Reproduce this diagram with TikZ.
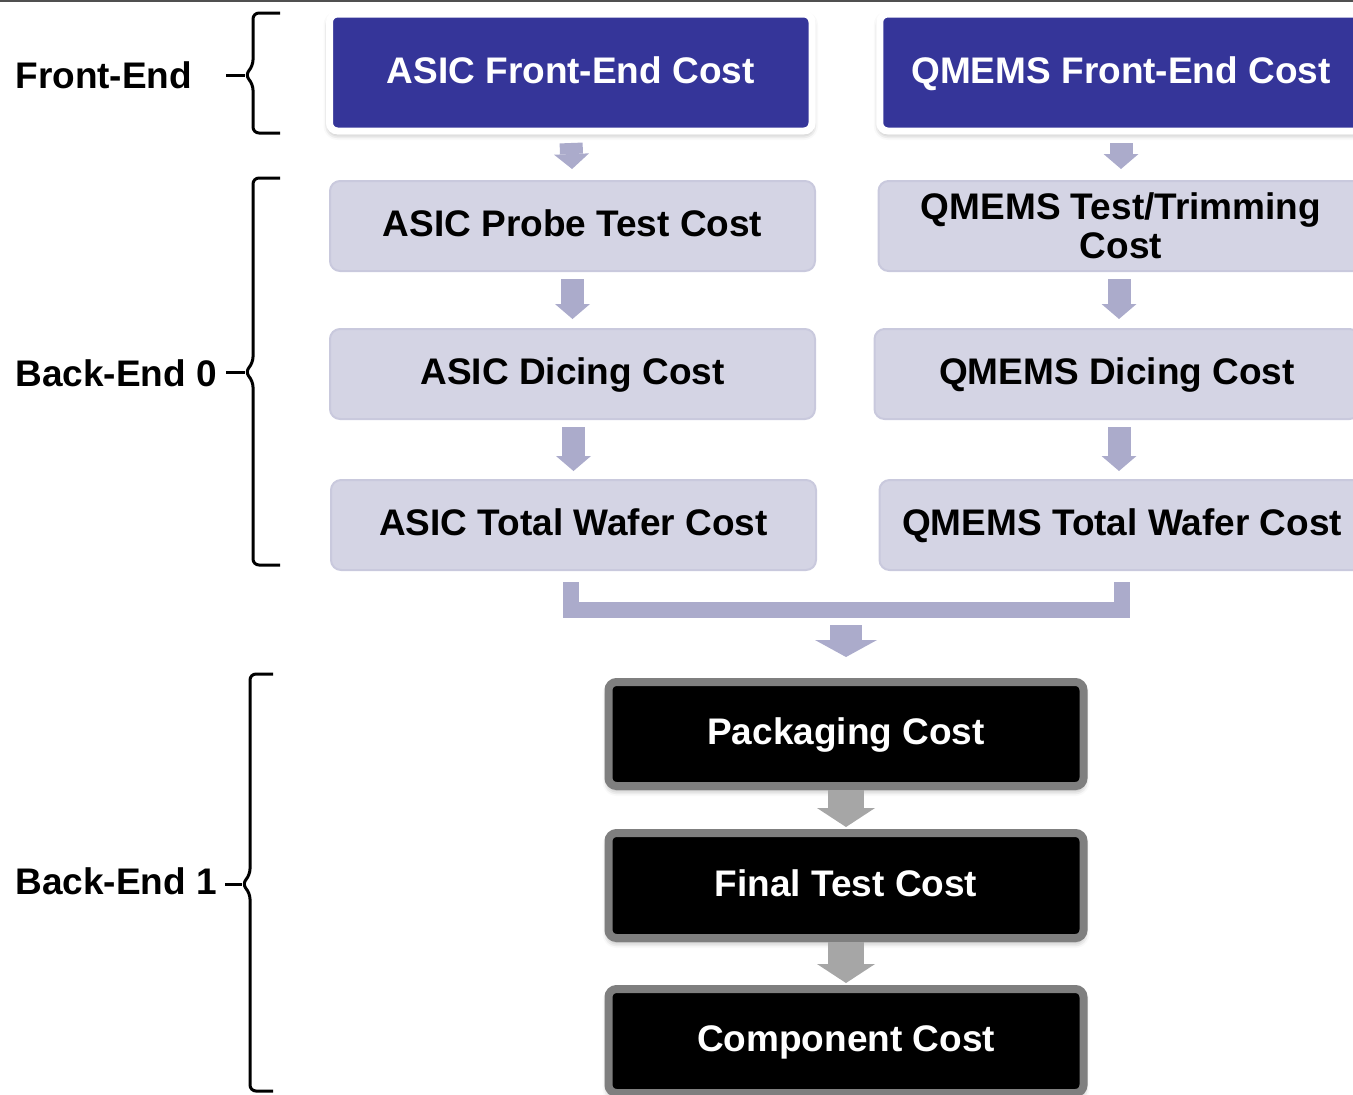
\documentclass[tikz,border=0pt]{standalone}
\usepackage{fontspec}
\setmainfont{Liberation Sans}
\usetikzlibrary{arrows.meta,shadows.blur}

\definecolor{feblue}{RGB}{53,53,153}
\definecolor{wafergray}{RGB}{212,212,228}
\definecolor{waferedge}{RGB}{201,201,221}
\definecolor{lavarrow}{RGB}{171,171,203}
\definecolor{pkgedge}{RGB}{127,127,127}
\definecolor{greyarrow}{RGB}{166,166,166}
\definecolor{topline}{RGB}{80,80,80}

\begin{document}
\begin{tikzpicture}[x=0.5pt, y=-0.5pt,
    cost/.style={font=\bfseries\fontsize{18.5}{19.5}\selectfont, align=center, inner sep=0pt},
    oneline/.style={text height=13.2pt, text depth=2.6pt},
    front/.style={cost, oneline, fill=feblue, draw=white, line width=3.5pt, text=white,
        rounded corners=4pt, minimum width=241.25pt, minimum height=58.5pt,
        blur shadow={shadow xshift=0pt, shadow yshift=-1.5pt, shadow blur radius=3pt, shadow opacity=40}},
    wafer/.style={cost, fill=wafergray, draw=waferedge, line width=1pt,
        rounded corners=5pt, minimum width=242.5pt, minimum height=45pt},
    pkg/.style={cost, oneline, fill=black, draw=pkgedge, line width=4pt, text=white,
        rounded corners=4pt, minimum width=237.5pt, minimum height=52pt,
        blur shadow={shadow xshift=0pt, shadow yshift=-2pt, shadow blur radius=3pt, shadow opacity=40}},
    lavflow/.style={lavarrow, line width=11.5pt, -{Triangle[width=17.5pt,length=7.5pt,line width=0pt]}},
    greyflow/.style={greyarrow, line width=18pt, -{Triangle[width=29pt,length=9.5pt,line width=0pt]}},
    side/.style={font=\bfseries\fontsize{18.5}{19.5}\selectfont, anchor=west, inner sep=0pt},
    brace/.style={line width=1.5pt, rounded corners=3pt}]

\useasboundingbox (0,0) rectangle (1353,1094);
\clip (0,0) rectangle (1353,1094);
\draw[topline, line width=1pt] (0,1) -- (1353,1);

% front-end
\node[front] (fe1) at (570.75,72.5) {ASIC Front-End Cost};
\node[front] (fe2) at (1121,72.5) {QMEMS Front-End Cost};

% back-end 0, wafer level
\node[wafer, oneline] (pt1) at (572.5,226) {ASIC Probe Test Cost};
\node[wafer] (pt2) at (1121,226) {QMEMS Test/Trimming\\Cost};
\node[wafer, oneline] (dc1) at (572.5,374) {ASIC Dicing Cost};
\node[wafer, oneline] (dc2) at (1117,374) {QMEMS Dicing Cost};
\node[wafer, oneline] (tw1) at (573.5,525) {ASIC Total Wafer Cost};
\node[wafer, oneline] (tw2) at (1122,525) {QMEMS Total Wafer Cost};

% back-end 1
\node[pkg] (pack) at (846,734) {Packaging Cost};
\node[pkg, minimum height=52.5pt] (ft) at (846,885.5) {Final Test Cost};
\node[pkg] (comp) at (846,1041) {Component Cost};

\draw[lavflow, shorten <=4.25pt, shorten >=5.5pt] (fe1.south) -- (pt1.north);
\draw[lavflow, shorten <=4.25pt, shorten >=5.5pt] (fe2.south) -- (pt2.north);
\draw[lavflow, shorten <=3.5pt, shorten >=4.5pt] (pt1.south) -- (dc1.north);
\draw[lavflow, shorten <=3.5pt, shorten >=4.5pt] ([xshift=-1pt]pt2.south) -- ([xshift=-1pt]pt2.south |- dc2.north);
\draw[lavflow, shorten <=3.5pt, shorten >=4pt] (dc1.south -| tw1.north) -- (tw1.north);
\draw[lavflow, shorten <=3.5pt, shorten >=4pt] ([xshift=1pt]dc2.south) -- ([xshift=1pt]dc2.south |- tw2.north);

% both wafers go into the package
\coordinate (merge) at (846,609.5);
\draw[lavarrow, line width=8pt] ([xshift=-1.5pt,yshift=-5.5pt]tw1.south) |- (merge) -| ([yshift=-5.5pt]tw2.south);
\draw[lavarrow, line width=16pt, -{Triangle[width=31pt,length=8.5pt,line width=0pt]},
    shorten <=7.75pt, shorten >=10.5pt] (merge) -- (pack.north);

\draw[greyflow, shorten >=1pt] (pack.south) -- (ft.north);
\draw[greyflow, shorten >=1pt] (ft.south) -- (comp.north);

% stage labels and braces
\node[side] (lfe) at (15,75) {Front-End};
\node[side] (lbe0) at (15,373) {Back-End 0};
\node[side] (lbe1) at (15,881) {Back-End 1};

\draw[brace] (280,13) -- (253,13) -- (253,66) -- (245,75) -- (253,84) -- (253,133) -- (280,133);
\draw[line width=1.5pt] (226,75) -- (245,75);
\draw[brace] (280,178) -- (253,178) -- (253,363) -- (245,372) -- (253,381) -- (253,565) -- (280,565);
\draw[line width=1.5pt] (226,372) -- (245,372);
\draw[brace] (273,674) -- (250,674) -- (250,875) -- (242,884) -- (250,893) -- (250,1091) -- (273,1091);
\draw[line width=1.5pt] (225,884) -- (242,884);
\end{tikzpicture}
\end{document}
